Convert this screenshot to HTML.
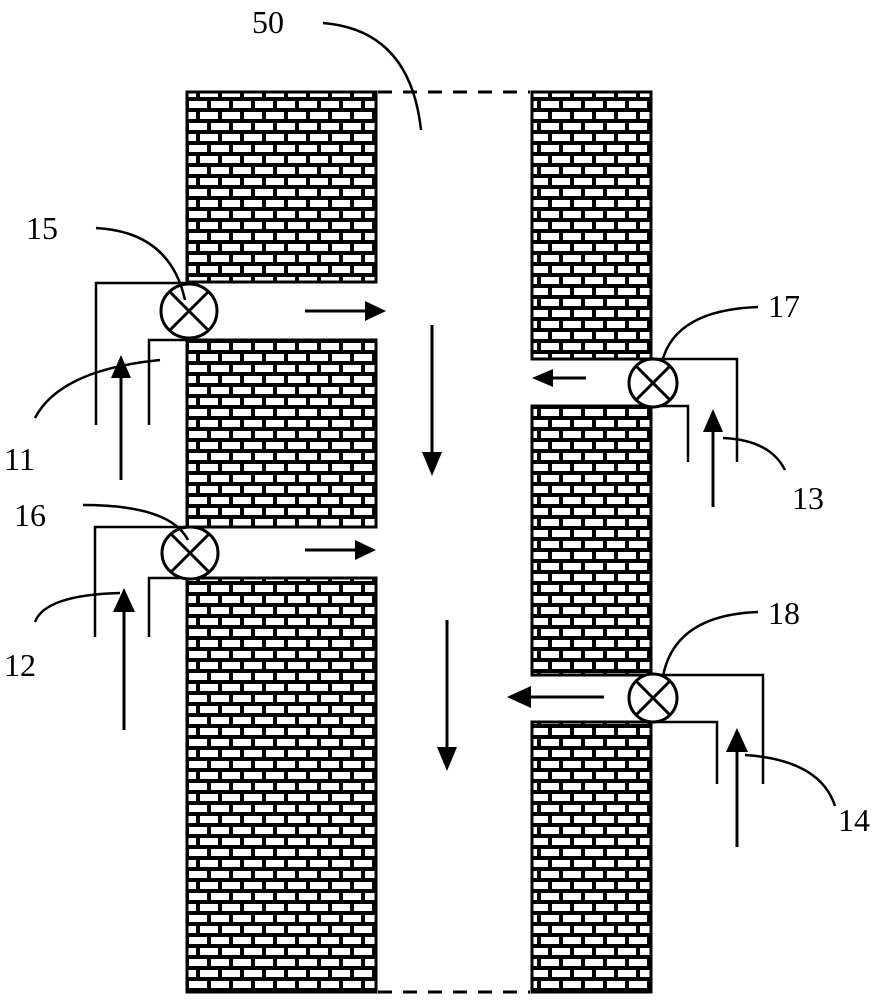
<!DOCTYPE html>
<html><head><meta charset="utf-8"><style>
html,body{margin:0;padding:0;background:#fff;}
svg{display:block;}
text{font-family:"Liberation Serif",serif;font-size:32px;fill:#000;}
</style></head><body>
<svg width="882" height="1000" viewBox="0 0 882 1000" xmlns="http://www.w3.org/2000/svg">
<defs>
<pattern id="br" x="0" y="0" width="22" height="22" patternUnits="userSpaceOnUse">
<rect width="22" height="22" fill="#000"/>
<rect x="2" y="2" width="18" height="7" fill="#fff"/>
<rect x="-9" y="13" width="18" height="7" fill="#fff"/>
<rect x="13" y="13" width="18" height="7" fill="#fff"/>
</pattern>
</defs>
<g stroke="#000" stroke-width="3">
<rect x="187" y="92" width="189" height="190" fill="url(#br)"/>
<rect x="187" y="340" width="189" height="187" fill="url(#br)"/>
<rect x="187" y="578" width="189" height="414" fill="url(#br)"/>
<rect x="532" y="92" width="119" height="267" fill="url(#br)"/>
<rect x="532" y="406" width="119" height="269" fill="url(#br)"/>
<rect x="532" y="722" width="119" height="270" fill="url(#br)"/>
</g>
<g stroke="#000" stroke-width="3" stroke-dasharray="14,11" fill="none">
<line x1="378" y1="92" x2="530" y2="92"/>
<line x1="378" y1="992" x2="530" y2="992"/>
</g>
<g stroke="#000" stroke-width="2.5" fill="none">
<polyline points="96,425 96,283 187,283"/>
<polyline points="149,425 149,340 187,340"/>
<polyline points="95,637 95,527 187,527"/>
<polyline points="149,637 149,578 187,578"/>
<polyline points="653,359 737,359 737,462"/>
<polyline points="653,406 688,406 688,462"/>
<polyline points="653,675 763,675 763,784"/>
<polyline points="653,722 717,722 717,784"/>
</g>
<g stroke="#000" stroke-width="3" fill="#fff">
<ellipse cx="189" cy="311" rx="28" ry="27"/>
<ellipse cx="190" cy="553" rx="28" ry="26"/>
<ellipse cx="653" cy="383" rx="24" ry="24"/>
<ellipse cx="653" cy="698" rx="24" ry="24"/>
</g>
<g stroke="#000" stroke-width="3">
<line x1="170" y1="292" x2="208" y2="330"/><line x1="208" y1="292" x2="170" y2="330"/>
<line x1="171" y1="534" x2="209" y2="572"/><line x1="209" y1="534" x2="171" y2="572"/>
<line x1="637" y1="367" x2="669" y2="399"/><line x1="669" y1="367" x2="637" y2="399"/>
<line x1="637" y1="682" x2="669" y2="714"/><line x1="669" y1="682" x2="637" y2="714"/>
</g>
<g fill="#000">
<line x1="305" y1="311" x2="368" y2="311" stroke="#000" stroke-width="3"/><path d="M365,301 L386,311 L365,321z"/>
<line x1="305" y1="550" x2="358" y2="550" stroke="#000" stroke-width="3"/><path d="M355,540 L376,550 L355,560z"/>
<line x1="432" y1="325" x2="432" y2="455" stroke="#000" stroke-width="3"/><path d="M422,452 L432,476 L442,452z"/>
<line x1="447" y1="620" x2="447" y2="750" stroke="#000" stroke-width="3"/><path d="M437,747 L447,771 L457,747z"/>
<line x1="586" y1="378" x2="550" y2="378" stroke="#000" stroke-width="3"/><path d="M553,369 L532,378 L553,387z"/>
<line x1="604" y1="697" x2="527" y2="697" stroke="#000" stroke-width="3"/><path d="M531,686 L507,697 L531,708z"/>
<line x1="121" y1="480" x2="121" y2="375" stroke="#000" stroke-width="3"/><path d="M111,378 L121,355 L131,378z"/>
<line x1="124" y1="730" x2="124" y2="610" stroke="#000" stroke-width="3"/><path d="M113,612 L124,588 L135,612z"/>
<line x1="713" y1="507" x2="713" y2="430" stroke="#000" stroke-width="3"/><path d="M703,432 L713,409 L723,432z"/>
<line x1="737" y1="847" x2="737" y2="750" stroke="#000" stroke-width="3"/><path d="M726,752 L737,728 L748,752z"/>
</g>
<g stroke="#000" stroke-width="2.5" fill="none">
<path d="M323,23 Q410,30 421,130"/>
<path d="M96,228 Q170,232 185,300"/>
<path d="M35,418 Q60,370 160,360"/>
<path d="M83,505 Q170,505 188,540"/>
<path d="M35,622 Q45,595 120,593"/>
<path d="M758,307 Q675,310 662,362"/>
<path d="M785,470 Q770,440 723,438"/>
<path d="M758,612 Q675,615 663,676"/>
<path d="M835,806 Q820,760 745,755"/>
</g>
<text x="252" y="33">50</text>
<text x="26" y="239">15</text>
<text x="4" y="470">11</text>
<text x="14" y="526">16</text>
<text x="4" y="676">12</text>
<text x="768" y="317">17</text>
<text x="792" y="509">13</text>
<text x="768" y="624">18</text>
<text x="838" y="831">14</text>
</svg>
</body></html>
